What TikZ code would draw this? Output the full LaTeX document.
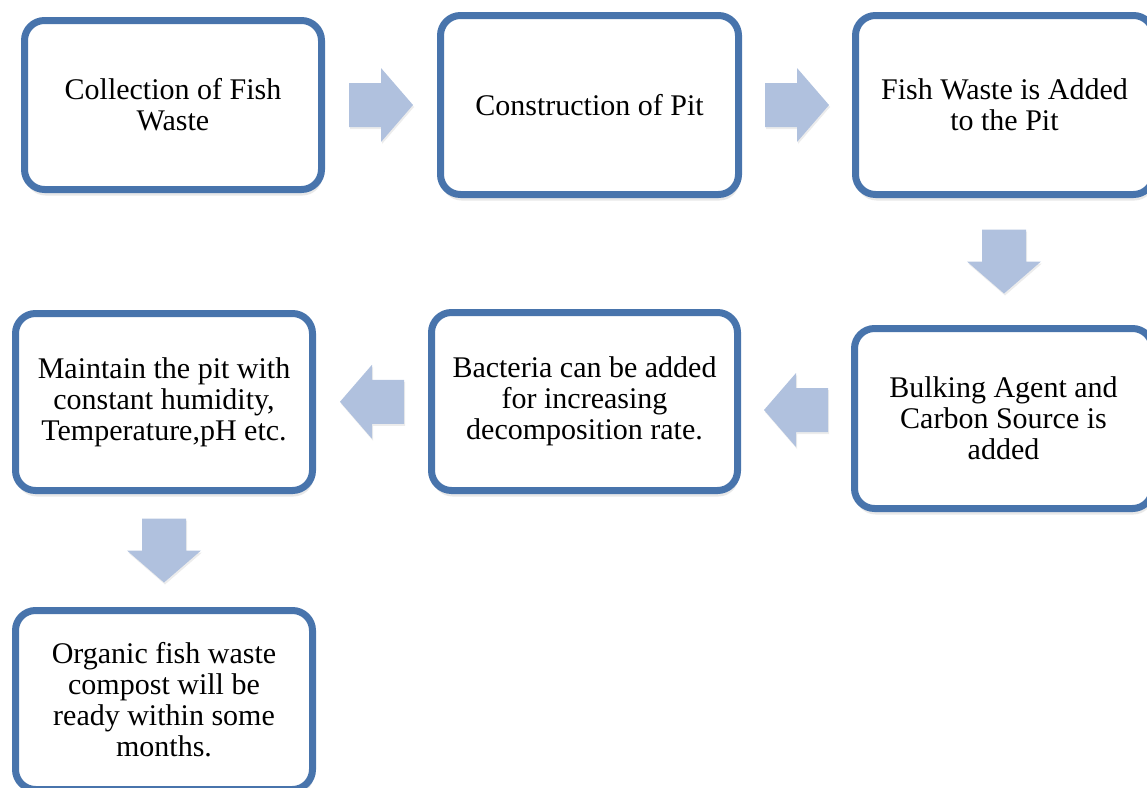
\documentclass[tikz,border=0pt]{standalone}
\usepackage{fontspec}
\setmainfont{Liberation Serif}
\usetikzlibrary{calc,positioning,shadows}
\definecolor{BoxBlue}{RGB}{72,116,172}
\definecolor{ArrowBlue}{RGB}{176,193,222}
\newcommand{\blockarrow}[3]{%
  \fill[ArrowBlue,shift={($(#1)!.5!(#2)$)},rotate=#3,
    drop shadow={shadow xshift=1pt,shadow yshift=-2pt,opacity=.15}]
    (-32,-22)--(0,-22)--(0,-37)--(32,0)--(0,37)--(0,22)--(-32,22)--cycle;}
\tikzset{
  stage/.style={draw=BoxBlue,line width=7pt,rounded corners=20pt,fill=white,
    align=center,inner sep=0pt,font=\fontsize{30}{31}\selectfont,
    drop shadow={shadow xshift=1pt,shadow yshift=-6pt,opacity=.18}}
}

\begin{document}
\begin{tikzpicture}[x=1pt,y=-1pt]
  \path[use as bounding box] (0,0) rectangle (1147,787);
  \clip (0,0) rectangle (1147,787);
  \node[stage,minimum width=297,minimum height=169] (b1) at (173,105) {Collection of Fish\\Waste};
  \node[stage,minimum width=298,minimum height=179] (b2) at (589.5,105) {Construction of Pit};
  \node[stage,minimum width=298,minimum height=179] (b3) at (1004.5,105) {Fish Waste is Added\\to the Pit};
  \node[stage,minimum width=298,minimum height=180] (b6) at (1003.5,418.5) {Bulking Agent and\\Carbon Source is\\added};
  \node[stage,minimum width=306,minimum height=178] (b5) at (584.5,401.5) {Bacteria can be added\\for increasing\\decomposition rate.};
  \node[stage,minimum width=297,minimum height=177] (b4) at (164,402) {Maintain the pit with\\constant humidity,\\Temperature,pH etc.};
  \node[stage,minimum width=297,minimum height=179] (b7) at (164,700) {Organic fish waste\\compost will be\\ready within some\\months.};
  \blockarrow{b1.east}{b2.west}{0}
  \blockarrow{b2.east}{b3.west}{0}
  \blockarrow{b3.south}{b6.north}{-90}
  \blockarrow{b6.west}{b5.east}{180}
  \blockarrow{b5.west}{b4.east}{180}
  \blockarrow{b4.south}{b7.north}{-90}
\end{tikzpicture}
\end{document}
